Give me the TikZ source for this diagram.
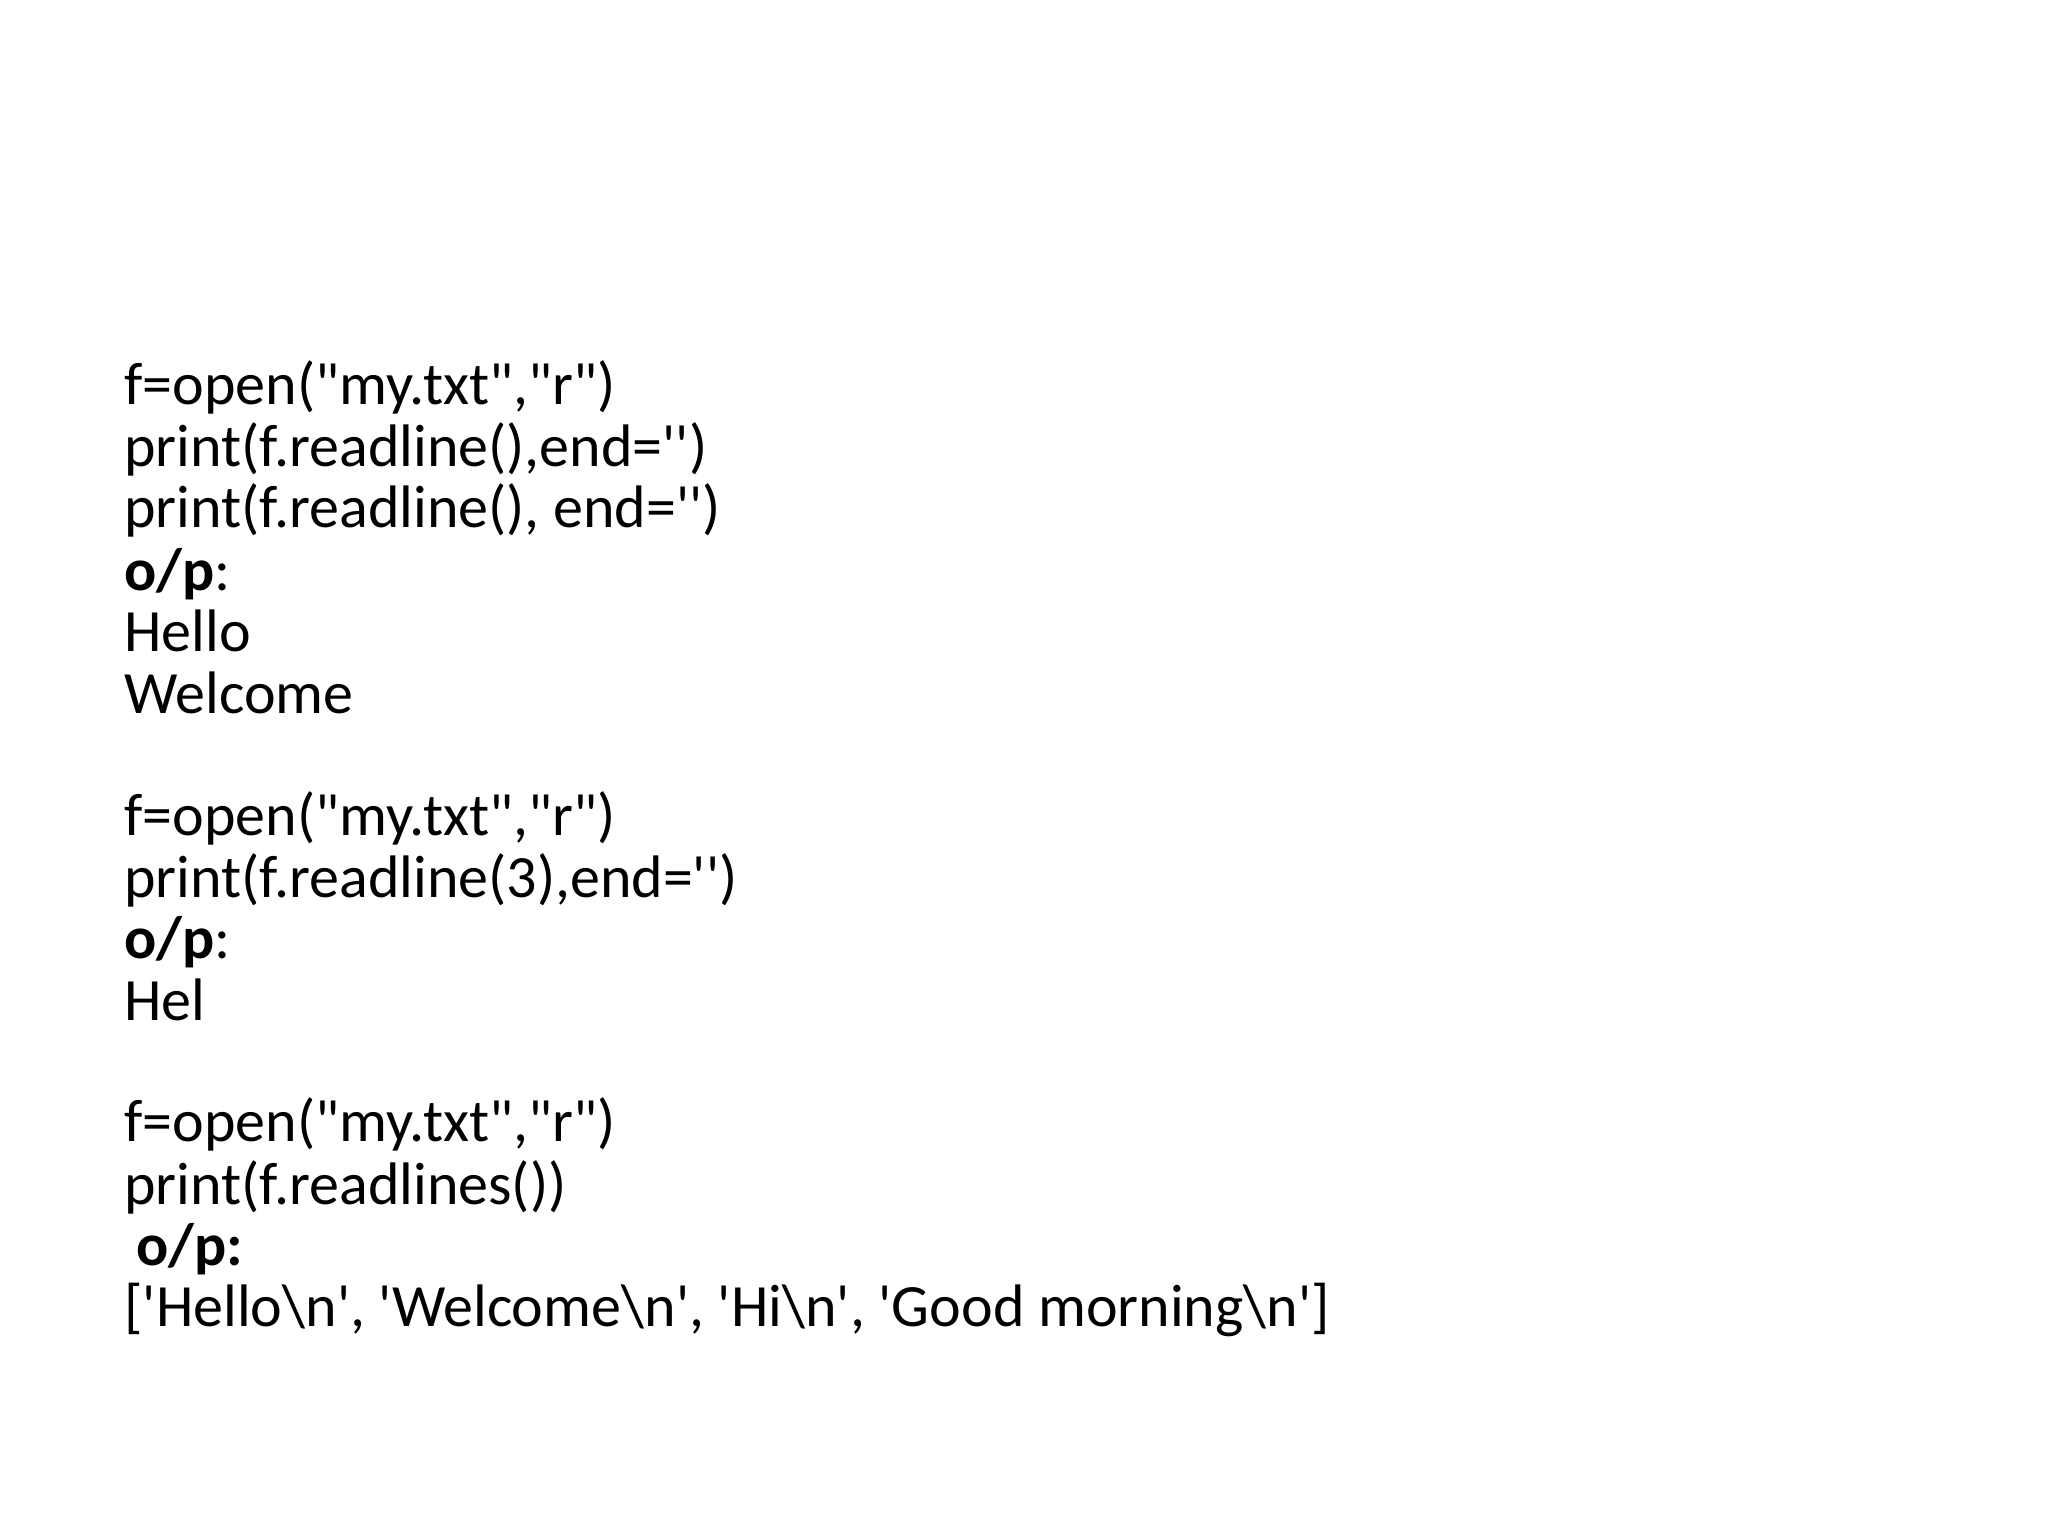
\documentclass[tikz,border=0pt]{standalone}
\usepackage{fontspec}
\setmainfont{Carlito}[Ligatures=TeXOff]
\begin{document}
\begin{tikzpicture}[x=1pt,y=1pt,ln/.style={anchor=base west,inner sep=0pt,font=\fontsize{30}{36}\selectfont}]
\useasboundingbox (0,0) rectangle (1024,-768);
\def\bs{\textbackslash}
\node[ln] (l1) at (62,-202.4) {f=open("my.txt","r")};
\node[ln] (l2) at (62,-233.1) {print(f.readline(),end='')};
\node[ln] (l3) at (62,-263.8) {print(f.readline(), end='')};
\node[ln] (l4) at (62,-295.2) {\textbf{o/p}:};
\node[ln] (l5) at (62,-325.8) {Hello};
\node[ln] (l6) at (62,-356.5) {Welcome};
\node[ln] (l7) at (62,-417.9) {f=open("my.txt","r")};
\node[ln] (l8) at (62,-448.6) {print(f.readline(3),end='')};
\node[ln] (l9) at (62,-479.3) {\textbf{o/p}:};
\node[ln] (l10) at (62,-510.0) {Hel};
\node[ln] (l11) at (62,-570.7) {f=open("my.txt","r")};
\node[ln] (l12) at (62,-602.1) {print(f.readlines())};
\node[ln] (l13) at (68,-632.8) {\textbf{o/p:}};
\node[ln] (l14) at (62,-663.4) {['Hello\bs n', 'Welcome\bs n', 'Hi\bs n', 'Good morning\bs n']};
\end{tikzpicture}
\end{document}
